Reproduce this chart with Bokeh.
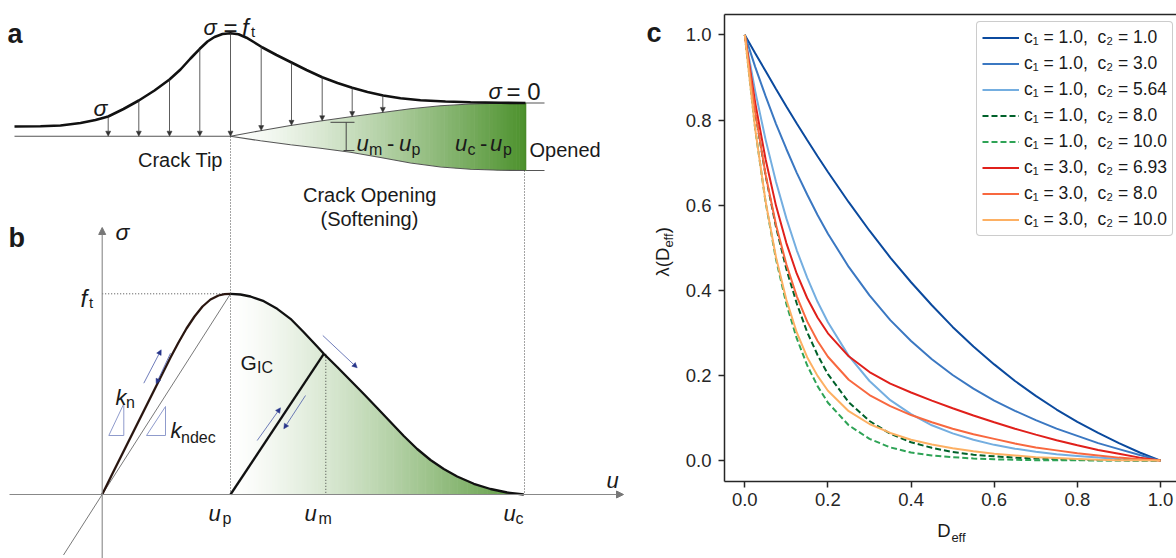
import numpy as np
from bokeh.plotting import figure
from bokeh.models import (Range1d, ColumnDataSource, Arrow, NormalHead, Legend,
                          LegendItem, LinearAxis, FixedTicker, NumeralTickFormatter)
from bokeh.layouts import row
from bokeh.embed import file_html
from bokeh.resources import INLINE
from bokeh.core.properties import value

FONT = "Liberation Sans"

# ---------------- panel c data ----------------
D_EFF = [0.0, 0.025, 0.05, 0.075, 0.1, 0.125, 0.15, 0.175, 0.2, 0.25, 0.3, 0.35, 0.4,
         0.45, 0.5, 0.55, 0.6, 0.65, 0.7, 0.75, 0.8, 0.85, 0.9, 0.95, 1.0]
LAM_C1_1_C2_1 = [1.000, 0.957, 0.915, 0.873, 0.832, 0.792, 0.753, 0.715, 0.678, 0.607, 0.540, 0.477,
                 0.419, 0.365, 0.314, 0.268, 0.226, 0.187, 0.152, 0.120, 0.091, 0.065, 0.041, 0.019, 0.000]
LAM_C1_1_C2_3 = [1.000, 0.925, 0.856, 0.791, 0.732, 0.676, 0.625, 0.577, 0.533, 0.455, 0.388, 0.330,
                 0.281, 0.238, 0.201, 0.169, 0.141, 0.117, 0.095, 0.075, 0.058, 0.041, 0.027, 0.013, 0.000]
LAM_C1_1_C2_564 = [1.000, 0.868, 0.754, 0.655, 0.569, 0.494, 0.430, 0.373, 0.325, 0.246, 0.187, 0.142,
                   0.109, 0.083, 0.064, 0.049, 0.037, 0.028, 0.021, 0.015, 0.011, 0.007, 0.004, 0.002, 0.000]
LAM_C1_1_C2_8 = [1.000, 0.819, 0.670, 0.549, 0.450, 0.369, 0.302, 0.248, 0.203, 0.137, 0.093, 0.063,
                 0.043, 0.030, 0.020, 0.014, 0.010, 0.007, 0.005, 0.003, 0.002, 0.001, 0.001, 0.000, 0.000]
LAM_C1_1_C2_10 = [1.000, 0.779, 0.607, 0.473, 0.368, 0.287, 0.224, 0.175, 0.136, 0.083, 0.051, 0.031,
                  0.019, 0.012, 0.008, 0.005, 0.003, 0.002, 0.001, 0.001, 0.001, 0.000, 0.000, 0.000, 0.000]
LAM_C1_3_C2_693 = [1.000, 0.841, 0.708, 0.599, 0.511, 0.439, 0.382, 0.336, 0.299, 0.245, 0.208, 0.181,
                   0.160, 0.141, 0.123, 0.106, 0.090, 0.075, 0.061, 0.048, 0.036, 0.025, 0.016, 0.007, 0.000]
LAM_C1_3_C2_8 = [1.000, 0.819, 0.672, 0.554, 0.461, 0.386, 0.327, 0.281, 0.244, 0.190, 0.154, 0.128,
                 0.107, 0.090, 0.075, 0.062, 0.051, 0.040, 0.031, 0.024, 0.017, 0.012, 0.007, 0.003, 0.000]
LAM_C1_3_C2_10 = [1.000, 0.779, 0.609, 0.478, 0.378, 0.301, 0.243, 0.199, 0.164, 0.116, 0.086, 0.065,
                  0.049, 0.038, 0.029, 0.022, 0.016, 0.012, 0.008, 0.006, 0.004, 0.002, 0.001, 0.001, 0.000]

SERIES_LABELS = ["c\u2081 = 1.0,  c\u2082 = 1.0", "c\u2081 = 1.0,  c\u2082 = 3.0",
                 "c\u2081 = 1.0,  c\u2082 = 5.64", "c\u2081 = 1.0,  c\u2082 = 8.0",
                 "c\u2081 = 1.0,  c\u2082 = 10.0", "c\u2081 = 3.0,  c\u2082 = 6.93",
                 "c\u2081 = 3.0,  c\u2082 = 8.0", "c\u2081 = 3.0,  c\u2082 = 10.0"]
SERIES_VALUES = [LAM_C1_1_C2_1, LAM_C1_1_C2_3, LAM_C1_1_C2_564, LAM_C1_1_C2_8,
                 LAM_C1_1_C2_10, LAM_C1_3_C2_693, LAM_C1_3_C2_8, LAM_C1_3_C2_10]
SERIES_COLORS = ["#0b4a9e", "#3b78c2", "#74aee0", "#00612a", "#2ea356",
                 "#e0201b", "#f8683f", "#fdb063"]
SERIES_DASH = ["solid", "solid", "solid", "6 3", "6 3", "solid", "solid", "solid"]
TICKS = [0.0, 0.2, 0.4, 0.6, 0.8, 1.0]

# ---------------- schematic geometry (panels a, b; page pixels, y downwards) ----------------
SIGMA_A_X = [14, 40, 60, 80, 95, 107.7, 123, 138.3, 154, 169, 180, 190, 199.3, 207, 214, 222, 230,
             238, 246, 254, 262, 276, 291, 306, 321.7, 337, 351.7, 367, 382.7, 400, 420, 445, 470, 500, 525]
SIGMA_A_Y = [126, 125.8, 125, 122.5, 119.5, 116, 108.5, 100, 90, 79, 69, 58, 48.3, 41, 36.5, 33.5, 32.7,
             33.8, 37.2, 42, 47, 54.5, 62, 69.5, 76.8, 82.5, 87.3, 91.5, 95, 97.8, 99.7, 101, 101.8, 102.3, 102.5]
ARROW_A_X = [107.7, 138.3, 169, 199.3, 230, 260.7, 291, 321.7, 351.7, 382.3]
CRACK_X = [230, 260, 290, 320, 350, 380, 410, 440, 470, 500, 525]
UPPER_Y = [135.7, 130.2, 125, 120.5, 116.3, 112.2, 108.3, 105.3, 103.5, 102.7, 102.5]
LOWER_Y = [135.7, 140.3, 144.2, 147.8, 151.8, 157, 162.5, 166.5, 168.8, 169.8, 170]

LOAD_X = [101.7, 112, 122, 132, 142, 152, 162, 170, 178, 186, 194, 202, 210, 218, 224, 230]
LOAD_Y = [494, 473, 453, 433, 413, 393, 373, 357, 342, 328, 316, 306, 299, 295, 293.7, 293.3]
SOFT_X = [230, 240, 250, 263.3, 276.7, 290, 303.3, 316.7, 323.3, 336.7, 350, 363.3, 376.7, 390,
          403.3, 416.7, 430, 443.3, 456.7, 473.3, 490, 506.7, 523.3]
SOFT_Y = [293.3, 294, 296, 300.7, 308.3, 318.3, 331.7, 346, 353.3, 366.5, 380, 393.5, 407.5, 421.5,
          435.5, 448.5, 459.5, 468.5, 476, 483.3, 488.5, 492, 494]
BLUE_X0 = [143.3, 170, 322.3, 256.7, 305]
BLUE_Y0 = [382.7, 352.7, 335, 440, 395]
BLUE_X1 = [160.7, 155.7, 356.7, 280, 283.3]
BLUE_Y1 = [349.3, 383.3, 367.3, 407.3, 428.3]

W_LEFT, W_RIGHT, H = 680, 496, 558


def fy(v):
    """page pixel row -> data y of the (upward) left figure"""
    if isinstance(v, (list, tuple, np.ndarray)):
        return [fy(u) for u in v]
    return H - v


def green(t):
    t = max(0.0, min(1.0, t)) ** 1.3
    r = int(round(255 + (76 - 255) * t))
    g = int(round(255 + (145 - 255) * t))
    b = int(round(255 + (44 - 255) * t))
    return "#%02x%02x%02x" % (r, g, b)


def no_align(fig):
    try:
        fig.frame_align = False
    except Exception:
        pass


# ================= left figure: panels a and b (+ outer texts of c) =================
pl = figure(width=W_LEFT, height=H, x_range=Range1d(0, W_LEFT), y_range=Range1d(0, H),
            output_backend="svg", toolbar_location=None, x_axis_type=None, y_axis_type=None,
            min_border=0)
pl.outline_line_color = None
pl.background_fill_color = "white"
no_align(pl)

# gradient fill inside the crack (panel a)
xs, ys, cs = [], [], []
x0c, x1c = CRACK_X[0], CRACK_X[-1]
for i in range(len(CRACK_X) - 1):
    n = 8
    for k in range(n):
        fa, fb = k / n, (k + 1) / n
        xa = CRACK_X[i] + (CRACK_X[i + 1] - CRACK_X[i]) * fa
        xb = CRACK_X[i] + (CRACK_X[i + 1] - CRACK_X[i]) * fb
        ua = UPPER_Y[i] + (UPPER_Y[i + 1] - UPPER_Y[i]) * fa
        ub = UPPER_Y[i] + (UPPER_Y[i + 1] - UPPER_Y[i]) * fb
        la = LOWER_Y[i] + (LOWER_Y[i + 1] - LOWER_Y[i]) * fa
        lb = LOWER_Y[i] + (LOWER_Y[i + 1] - LOWER_Y[i]) * fb
        xe = xb + (0.6 if xb < x1c else 0)
        xs.append([xa, xe, xe, xa])
        ys.append(fy([ua, ub, lb, la]))
        cs.append(green(((xa + xb) / 2 - x0c) / (x1c - x0c)))
pl.patches(xs, ys, fill_color=cs, line_color=None)

# gradient fill under the softening curve (panel b)
xs, ys, cs = [], [], []
s0, s1 = SOFT_X[0], SOFT_X[-1]
for i in range(len(SOFT_X) - 1):
    n = 5
    for k in range(n):
        fa, fb = k / n, (k + 1) / n
        xa = SOFT_X[i] + (SOFT_X[i + 1] - SOFT_X[i]) * fa
        xb = SOFT_X[i] + (SOFT_X[i + 1] - SOFT_X[i]) * fb
        ya = SOFT_Y[i] + (SOFT_Y[i + 1] - SOFT_Y[i]) * fa
        yb = SOFT_Y[i] + (SOFT_Y[i + 1] - SOFT_Y[i]) * fb
        xe = xb + (0.6 if xb < s1 else 0)
        xs.append([xa, xe, xe, xa])
        ys.append(fy([ya, yb, 494, 494]))
        cs.append(green(0.93 * ((xa + xb) / 2 - s0) / (s1 - s0)))
pl.patches(xs, ys, fill_color=cs, line_color=None)

# thin lines of panel a
pl.line([14, 230], fy([135.7, 135.7]), line_color="#555555", line_width=1.1)
pl.line(CRACK_X, fy(UPPER_Y), line_color="#555555", line_width=1.1)
pl.line(CRACK_X, fy(LOWER_Y), line_color="#555555", line_width=1.1)
pl.line([525, 544], fy([102.5, 102.5]), line_color="#555555", line_width=1.1)
pl.line([525, 544], fy([170, 170]), line_color="#555555", line_width=1.1)
pl.line([525, 525], fy([102.5, 170]), line_color="#4a8a2a", line_width=1.6)
pl.multi_line([[330, 354], [343, 354], [345.7, 345.7]],
              [fy([121.8, 121.8]), fy([150, 150]), fy([121.8, 150])],
              line_color="#444444", line_width=1)

# dotted guide lines
pl.multi_line([[230, 230], [524, 524], [325.3, 325.3], [101.7, 230]],
              [fy([136, 494]), fy([170, 494]), fy([353.3, 494]), fy([293.3, 293.3])],
              line_color="#333333", line_width=0.9, line_dash="1 2")

# secant (k_ndec) line and slope triangles
pl.line([63, 230], fy([554.5, 293.3]), line_color="#555555", line_width=0.8)
pl.patches([[108.3, 123.3, 123.3], [146, 165, 165]], [fy([435, 435, 403.3]), fy([435, 435, 406])],
           fill_color=None, line_color="#8f9bcc", line_width=1)

# axes of panel b
pl.add_layout(Arrow(end=NormalHead(size=7, fill_color="#777777", line_color="#777777"),
                    x_start=101.7, y_start=fy(560), x_end=101.7, y_end=fy(227),
                    line_color="#888888", line_width=1.1))
pl.add_layout(Arrow(end=NormalHead(size=7, fill_color="#777777", line_color="#777777"),
                    x_start=9, y_start=fy(494), x_end=623, y_end=fy(494),
                    line_color="#888888", line_width=1.1))

# main curves
pl.line(SIGMA_A_X, fy(SIGMA_A_Y), line_color="#111111", line_width=2.6)
pl.line(LOAD_X, fy(LOAD_Y), line_color="#2a1610", line_width=2.3)
pl.line(SOFT_X, fy(SOFT_Y), line_color="#111111", line_width=2.3)
pl.line([230, SOFT_X[8]], fy([494, SOFT_Y[8]]), line_color="#111111", line_width=2.3)

# stress arrows of panel a
top_y = [float(v) for v in np.interp(ARROW_A_X, SIGMA_A_X, SIGMA_A_Y)]
bot_y = [135.7 if x <= 230 else float(np.interp(x, CRACK_X, UPPER_Y)) for x in ARROW_A_X]
asrc = ColumnDataSource(dict(x0=ARROW_A_X, y0=fy(top_y), x1=ARROW_A_X, y1=fy(bot_y)))
pl.add_layout(Arrow(end=NormalHead(size=5, fill_color="#333333", line_color="#333333", line_width=0.5),
                    x_start="x0", y_start="y0", x_end="x1", y_end="y1", source=asrc,
                    line_color="#333333", line_width=0.8))

# blue loading / unloading arrows of panel b
bsrc = ColumnDataSource(dict(x0=BLUE_X0, y0=fy(BLUE_Y0), x1=BLUE_X1, y1=fy(BLUE_Y1)))
pl.add_layout(Arrow(end=NormalHead(size=5, fill_color="#27358a", line_color="#27358a", line_width=0.5),
                    x_start="x0", y_start="y0", x_end="x1", y_end="y1", source=bsrc,
                    line_color="#4a5aa8", line_width=0.8))

# horizontal texts (x, baseline row, text, size, style)
TEXTS = [
    ("a", 7, 33, "27px", "bold"),
    ("\u03c3", 93, 107, "23px", "italic"),
    ("\u03c3", 203, 27, "22px", "italic"), ("=", 223, 27, "24px", "normal"),
    ("f", 241.5, 27, "24px", "italic"), ("t", 250.5, 31, "15px", "normal"),
    ("\u03c3", 488, 91, "22px", "italic"), ("= 0", 506, 91, "24px", "normal"),
    ("Crack Tip", 137.5, 159, "20px", "normal"),
    ("u", 356, 143.3, "22px", "italic"), ("m", 368.5, 148.5, "16px", "normal"),
    ("-", 386.5, 143.3, "22px", "normal"),
    ("u", 398.5, 143.3, "22px", "italic"), ("p", 411, 148.5, "16px", "normal"),
    ("u", 454.5, 143.3, "22px", "italic"), ("c", 467, 148.5, "16px", "normal"),
    ("-", 479.5, 143.3, "22px", "normal"),
    ("u", 489.5, 143.3, "22px", "italic"), ("p", 502.5, 148.5, "16px", "normal"),
    ("Opened", 529, 149, "20px", "normal"),
    ("Crack Opening", 302.5, 194, "20px", "normal"),
    ("(Softening)", 320, 218, "20px", "normal"),
    ("b", 8, 237, "27px", "bold"),
    ("\u03c3", 115, 231, "23px", "italic"),
    ("f", 80, 298.3, "24px", "italic"), ("t", 88.5, 302, "15px", "normal"),
    ("k", 115, 396.7, "22px", "italic"), ("n", 125.5, 401.7, "16px", "normal"),
    ("k", 170, 430, "22px", "italic"), ("ndec", 180.5, 436.7, "16px", "normal"),
    ("G", 240, 361.7, "21px", "normal"), ("IC", 256.5, 366.7, "16px", "normal"),
    ("u", 606, 480, "22px", "italic"),
    ("u", 208, 513, "22px", "italic"), ("p", 222, 517.5, "16px", "normal"),
    ("u", 304, 513, "22px", "italic"), ("m", 318, 517.5, "16px", "normal"),
    ("u", 503, 513, "22px", "italic"), ("c", 515, 517.5, "16px", "normal"),
    ("c", 646, 32, "27px", "bold"),
]
groups = {}
for t, x, y, s, st in TEXTS:
    g = groups.setdefault((s, st), ([], [], []))
    g[0].append(x); g[1].append(fy(y)); g[2].append(t)
for (s, st), (gx, gy, gt) in groups.items():
    pl.text(x=gx, y=gy, text=gt, text_font=value(FONT), text_font_size=s, text_font_style=st,
            text_color="#1a1a1a", text_baseline="alphabetic", text_align="left")

# rotated y label of panel c: pieces placed by their centres (x, row, text, size)
YLABEL = [("\u03bb(D", 662.0, 261.6, "18.5px"), ("eff", 668.0, 240.0, "13px"),
          (")", 662.0, 229.6, "18.5px")]
for t, x, y, s in YLABEL:
    pl.text(x=[x], y=[fy(y)], text=[t], text_font=value(FONT), text_font_size=s,
            text_color="#1a1a1a", text_baseline="middle", text_align="center", angle=np.pi / 2)

# ================= right figure: panel c =================
X0PIX, XPU = 744.3, 415.7     # page x of D=0, pixels per unit
Y0PIX, YPU = 460.1, 425.7
pc = figure(width=W_RIGHT, height=H,
            x_range=Range1d((724 - X0PIX) / XPU, (1176 - X0PIX) / XPU),
            y_range=Range1d((Y0PIX - 481) / YPU, (Y0PIX - 14) / YPU),
            output_backend="svg", toolbar_location=None, x_axis_type=None, y_axis_type=None,
            min_border_left=44, min_border_right=0, min_border_top=14, min_border_bottom=77)
pc.outline_line_color = None
pc.background_fill_color = "white"
no_align(pc)


def xd(px):
    return round((px - X0PIX) / XPU, 4)


def style_axis(ax, standoff):
    ax.axis_line_color = "#262626"
    ax.axis_line_width = 1.5
    ax.major_tick_line_color = "#262626"
    ax.major_tick_line_width = 1.5
    ax.major_tick_out = 6
    ax.major_tick_in = 0
    ax.minor_tick_line_color = None
    ax.major_label_text_font = FONT
    ax.major_label_text_font_size = "18.5px"
    ax.major_label_text_color = "#262626"
    ax.major_label_standoff = standoff


xa = LinearAxis(ticker=FixedTicker(ticks=TICKS), formatter=NumeralTickFormatter(format="0.0"))
style_axis(xa, 5)
pc.add_layout(xa, "below")


def text_axis(tick, txt, size, standoff):
    ax = LinearAxis(ticker=FixedTicker(ticks=[tick]), major_label_overrides={tick: txt})
    ax.axis_line_color = None
    ax.major_tick_line_color = None
    ax.minor_tick_line_color = None
    ax.major_tick_out = 0
    ax.major_tick_in = 0
    ax.major_label_text_font = FONT
    ax.major_label_text_font_size = size
    ax.major_label_text_color = "#1a1a1a"
    ax.major_label_standoff = standoff
    pc.add_layout(ax, "below")


text_axis(xd(943.5), "D", "18.5px", 11)
text_axis(xd(958.0), "eff", "13px", -14)

ya = LinearAxis(ticker=FixedTicker(ticks=TICKS), formatter=NumeralTickFormatter(format="0.0"))
style_axis(ya, 7)
pc.add_layout(ya, "left")
ta = LinearAxis(ticker=FixedTicker(ticks=[]))
ta.axis_line_color = "#262626"
ta.axis_line_width = 1.5
ta.major_tick_line_color = None
ta.minor_tick_line_color = None
ta.major_label_text_font_size = "0px"
pc.add_layout(ta, "above")

items = []
for vals, col, dash, lab in zip(SERIES_VALUES, SERIES_COLORS, SERIES_DASH, SERIES_LABELS):
    r = pc.line(D_EFF, vals, line_color=col, line_width=2, line_dash=dash)
    items.append(LegendItem(label=lab, renderers=[r]))

leg = Legend(items=items, location=(252, 245), orientation="vertical",
             border_line_color="#9a9a9a", border_line_width=1.5, background_fill_color="white",
             background_fill_alpha=1.0, label_text_font=FONT, label_text_font_size="17.5px",
             label_text_color="#1a1a1a", glyph_width=37, glyph_height=21, label_height=21,
             label_width=140, label_standoff=5, spacing=5, padding=5, margin=0)
try:
    leg.border_radius = 4
except Exception:
    pass
pc.add_layout(leg)

layout = row(pl, pc)
open("out.html", "w").write(file_html(layout, INLINE))
